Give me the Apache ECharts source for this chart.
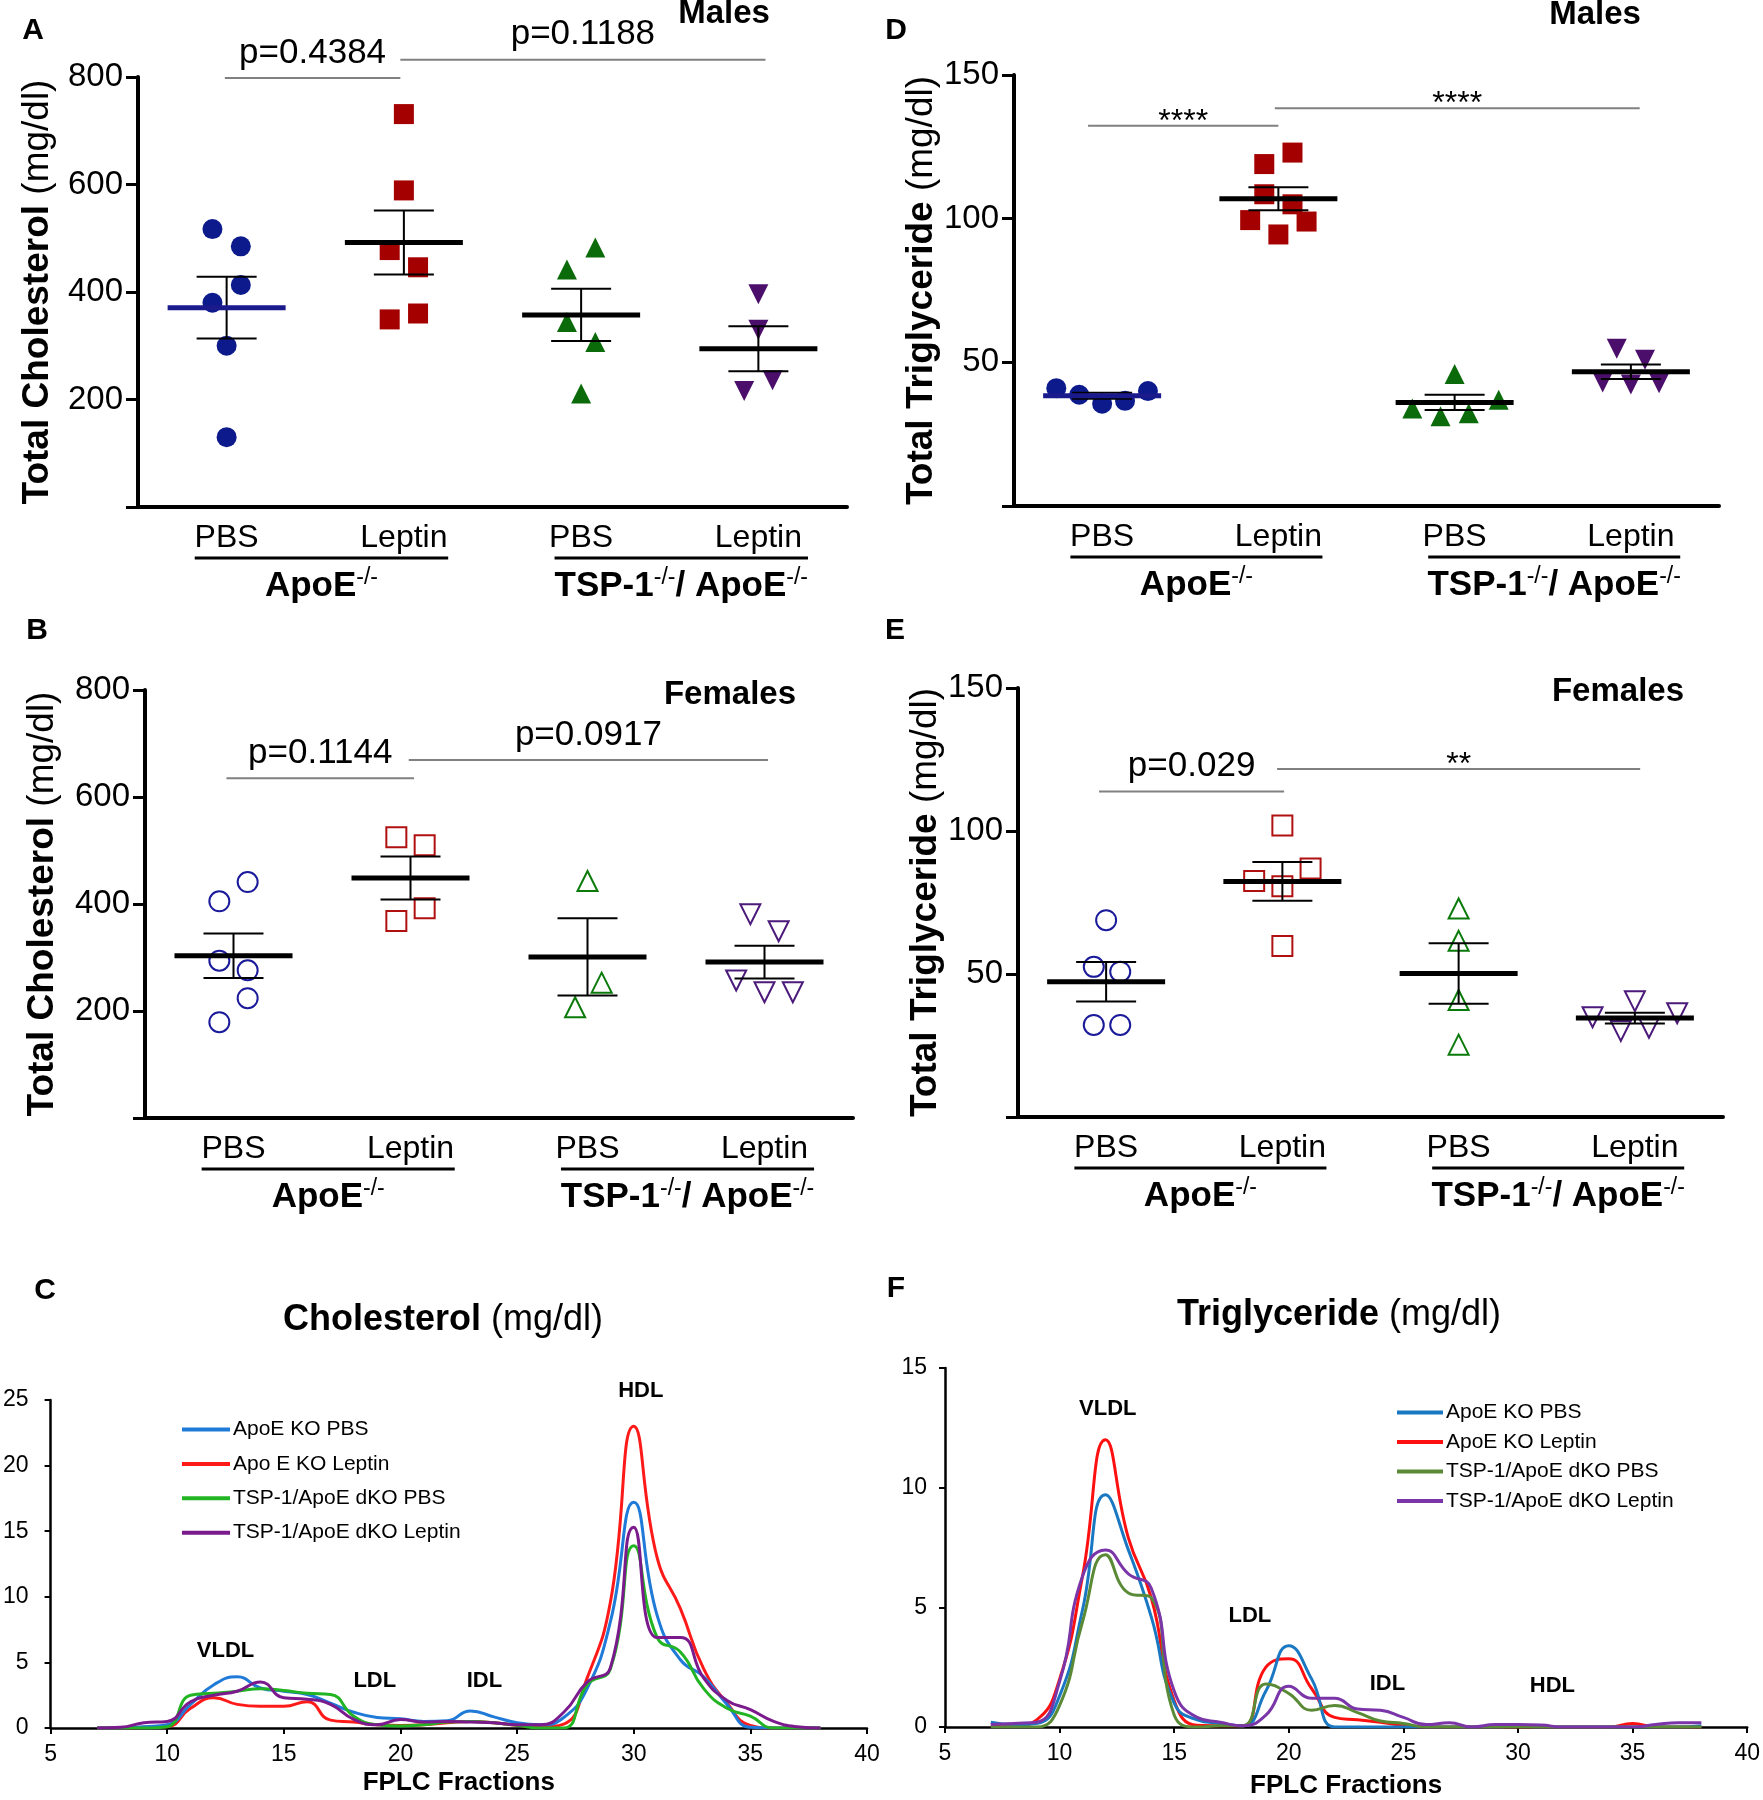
<!DOCTYPE html>
<html><head><meta charset="utf-8">
<script src="https://cdn.jsdelivr.net/npm/echarts@6/dist/echarts.min.js"></script>
<style>html,body{margin:0;padding:0;background:#fff}#c{width:1763px;height:1800px}</style>
</head><body><div id="c"></div>
<script>
// ---------- DATA ----------
const treatments = ['PBS', 'Leptin', 'PBS', 'Leptin'];
const genotypeLabels = ['{b|ApoE}{s|-/-}', '{b|TSP-1}{s|-/-}{b|/ ApoE}{s|-/-}'];

// Panel A: Males, total cholesterol (mg/dl)
const A_apoePBS = [517, 485, 413, 380, 300, 130];
const A_apoeLep = [731, 589, 478, 446, 349, 360];
const A_tspPBS  = [483, 442, 344, 307, 211];
const A_tspLep  = [396, 330, 216, 236];
// Panel B: Females, total cholesterol (mg/dl)
const B_apoePBS = [441, 405, 294, 276, 224, 179];
const B_apoeLep = [525, 510, 392, 368];
const B_tspPBS  = [443, 253, 207];
const B_tspLep  = [381, 349, 257, 235, 235];
// Panel D: Males, total triglyceride (mg/dl)
const D_apoePBS = [41, 38.7, 35.6, 36.6, 40];
const D_apoeLep = [123, 119, 108.5, 105, 99.5, 99, 94.5];
const D_tspPBS  = [45.9, 33.9, 31.2, 32.3, 37];
const D_tspLep  = [54.7, 50.9, 43, 42.3, 42.7];
// Panel E: Females, total triglyceride (mg/dl)
const E_apoePBS = [68.8, 52.5, 50.8, 32.2, 32.2];
const E_apoeLep = [101.9, 86.9, 82.5, 80.7, 59.8];
const E_tspPBS  = [72.9, 61.6, 40.9, 25.3];
const E_tspLep  = [34.9, 40.5, 36.3, 30.1, 31.2];

// significance annotations: [from group, to group, level]
const A_sig = [[0.99, 1.98, 798], [1.98, 4.04, 832]];
const A_sigText = ['p=0.4384', 'p=0.1188'];
const B_sig = [[0.96, 2.02, 635], [1.99, 4.02, 669]];
const B_sigText = ['p=0.1144', 'p=0.0917'];
const D_sig = [[0.92, 2.0, 132.3], [1.98, 4.05, 138.4]];
const D_sigText = ['****', '****'];
const E_sig = [[0.96, 2.01, 113.8], [1.97, 4.03, 121.7]];
const E_sigText = ['p=0.029', '**'];

// FPLC profiles
const fractions = [7,8,9,10,11,12,13,14,15,16,17,18,19,20,21,22,23,24,25,26,27,28,29,30,31,32,33,34,35,36,37,38];
const C_names = ['ApoE KO PBS', 'Apo E KO Leptin', 'TSP-1/ApoE dKO PBS', 'TSP-1/ApoE dKO Leptin'];
const C_apoePBS = [0,0,0.1,0.25,1.8,3.3,3.9,3.05,2.8,2.55,1.9,1.2,0.8,0.7,0.5,0.55,1.3,0.85,0.4,0.25,0.8,3.0,8.1,17.2,8.6,5.2,3.9,1.8,0.05,0,0,0];
const C_apoeLep = [0,0,0.05,0.1,1.5,2.3,1.8,1.65,1.65,2.0,0.6,0.45,0.25,0.2,0.25,0.4,0.5,0.4,0.2,0.1,0.3,3.8,9.6,23.0,13.0,9.1,4.5,1.9,0.2,0,0,0];
const C_tspPBS  = [0,0,0,0.1,2.5,2.65,2.8,3.0,2.85,2.65,2.55,0.9,0.25,0.15,0.25,0.45,0.5,0.4,0.2,0,0,3.3,4.5,13.9,6.9,5.8,3.0,1.5,0.9,0,0,0];
const C_tspLep  = [0,0.05,0.4,0.5,2.0,2.5,2.8,3.5,2.3,2.2,1.8,0.65,0.25,0.65,0.45,0.5,0.45,0.4,0.25,0.25,1.2,3.5,4.6,15.3,6.9,6.9,3.8,2.1,1.4,0.5,0.1,0];
const F_names = ['ApoE KO PBS', 'ApoE KO Leptin', 'TSP-1/ApoE dKO PBS', 'TSP-1/ApoE dKO Leptin'];
const F_apoePBS = [0.2,0.1,0.15,1.3,4.9,9.7,7.4,4.6,1.0,0.3,0.15,0.05,1.5,3.4,2.0,0,0,0,0,0,0,0,0,0.05,0,0,0,0,0,0,0,0.05];
const F_apoeLep = [0.05,0.05,0.3,2.0,6.3,12.0,7.9,5.4,1.1,0.07,0.05,0.05,2.5,2.85,1.6,0.4,0.3,0.2,0.07,0,0,0,0,0,0,0,0,0,0.15,0,0,0];
const F_tspPBS  = [0,0,0,0.9,4.4,7.2,5.6,5.4,0.5,0,0.05,0.05,1.8,1.4,0.7,0.9,0.6,0.25,0.15,0,0,0,0,0,0,0,0,0,0,0,0,0];
const F_tspLep  = [0.1,0.15,0.2,1.9,6.3,7.4,6.4,5.8,1.5,0.4,0.2,0.05,0.5,1.7,1.2,1.2,0.75,0.7,0.4,0.1,0.18,0,0.1,0.1,0.08,0,0,0,0,0.1,0.18,0.18];
// lipoprotein class labels [fraction, level]
const C_classes = [['VLDL', 12.5, 5.85], ['LDL', 18.9, 3.56], ['IDL', 23.6, 3.56], ['HDL', 30.3, 25.7]];
const F_classes = [['VLDL', 12.1, 13.3], ['LDL', 18.3, 4.64], ['IDL', 24.3, 1.78], ['HDL', 31.5, 1.71]];

// ---------- LAYOUT / STYLE ----------
const FONT = '"Liberation Sans", Arial, Helvetica, sans-serif';
// horizontal scatter spread within a group (category units)
const A_jit = [[-0.08,0.08,0.08,-0.08,0,0],[0,0,-0.08,0.08,-0.08,0.08],[0.08,-0.08,-0.08,0.08,0],[0,0,-0.08,0.08]];
const B_jit = [[0.08,-0.08,-0.08,0.08,0.08,-0.08],[-0.08,0.08,0.08,-0.08],[0,0.08,-0.07],[-0.08,0.08,-0.16,0,0.16]];
const D_jit = [[-0.26,-0.13,0,0.13,0.26],[0.08,-0.08,-0.08,0.08,-0.16,0.16,0],[0,-0.24,-0.08,0.08,0.25],[-0.08,0.08,-0.16,0,0.16]];
const E_jit = [[0,-0.07,0.08,-0.07,0.08],[0,0.16,-0.16,0,0],[0,0,0,0],[-0.24,0,0.24,-0.08,0.08]];
const groupSpans = [[0.82, 2.25], [2.85, 4.28]];

const markerColors = ['#0d1a8c', '#a50000', '#0b6b0b', '#4b0f6b'];
const openColors = ['#1a1a9a', '#b01010', '#0a7a0a', '#4b1a7a'];
const symbolsFilled = ['circle', 'rect', 'triangle', 'triangle'];
const symbolsOpen = ['emptyCircle', 'emptyRect', 'emptyTriangle', 'emptyTriangle'];

function mean(a) { return a.reduce((s, v) => s + v, 0) / a.length; }
function sem(a) { const m = mean(a); const v = a.reduce((s, x) => s + (x - m) * (x - m), 0) / (a.length - 1); return Math.sqrt(v / a.length); }

const panels = [
  { grid: {left: 138, top: 77, width: 709, height: 430}, groups: [A_apoePBS, A_apoeLep, A_tspPBS, A_tspLep], jit: A_jit,
    ymax: 800, yint: 200, yname: '{b|Total Cholesterol} {n|(mg/dl)}', nameGap: 82, filled: true, firstMeanColor: '#1a1a8c', sig: A_sig, sigText: A_sigText },
  { grid: {left: 1014, top: 75, width: 705, height: 431}, groups: [D_apoePBS, D_apoeLep, D_tspPBS, D_tspLep], jit: D_jit,
    ymax: 150, yint: 50, yname: '{b|Total Triglyceride} {n|(mg/dl)}', nameGap: 70, filled: true, firstMeanColor: '#1a1a8c', sig: D_sig, sigText: D_sigText },
  { grid: {left: 145, top: 690, width: 708, height: 428}, groups: [B_apoePBS, B_apoeLep, B_tspPBS, B_tspLep], jit: B_jit,
    ymax: 800, yint: 200, yname: '{b|Total Cholesterol} {n|(mg/dl)}', nameGap: 84, filled: false, firstMeanColor: '#000', sig: B_sig, sigText: B_sigText },
  { grid: {left: 1018, top: 688, width: 705, height: 429}, groups: [E_apoePBS, E_apoeLep, E_tspPBS, E_tspLep], jit: E_jit,
    ymax: 150, yint: 50, yname: '{b|Total Triglyceride} {n|(mg/dl)}', nameGap: 72, filled: false, firstMeanColor: '#000', sig: E_sig, sigText: E_sigText }
];

const grids = [], xAxes = [], yAxes = [], series = [];

panels.forEach((p, i) => {
  grids.push(p.grid);
  xAxes.push({
    type: 'category', gridIndex: i, data: treatments, boundaryGap: true,
    axisLine: {lineStyle: {color: '#000', width: 4}},
    axisTick: {alignWithLabel: true, length: 11, lineStyle: {color: '#000', width: 4}},
    axisLabel: {fontSize: 32, color: '#000', fontFamily: FONT, margin: 15},
    splitLine: {show: false}
  });
  xAxes.push({type: 'value', gridIndex: i, min: 0.5, max: 4.5, show: false});
  yAxes.push({
    type: 'value', gridIndex: i, min: 0, max: p.ymax, interval: p.yint,
    axisLine: {show: true, lineStyle: {color: '#000', width: 4}},
    axisTick: {show: true, length: 12, lineStyle: {color: '#000', width: 3}},
    axisLabel: {fontSize: 33, color: '#000', fontFamily: FONT, margin: 15, formatter: v => v === 0 ? '' : String(v)},
    splitLine: {show: false},
    name: p.yname, nameLocation: 'middle', nameGap: p.nameGap,
    nameTextStyle: {fontSize: 37, color: '#000', fontFamily: FONT,
      rich: {b: {fontSize: 37, fontWeight: 'bold', color: '#000', fontFamily: FONT}, n: {fontSize: 37, color: '#000', fontFamily: FONT}}}
  });
  // points
  p.groups.forEach((vals, g) => {
    const base = {
      type: 'scatter', xAxisIndex: 2 * i + 1, yAxisIndex: i, z: 3,
      data: vals.map((v, k) => [g + 1 + p.jit[g][k], v]),
      symbolRotate: g === 3 ? 180 : 0,
      emphasis: {disabled: true}, silent: true
    };
    if (p.filled) {
      base.symbol = symbolsFilled[g]; base.symbolSize = 20;
      base.itemStyle = {color: markerColors[g], opacity: 1};
    } else {
      base.symbol = symbolsOpen[g]; base.symbolSize = 20;
      base.itemStyle = {color: openColors[g], borderWidth: 2.5, opacity: 1};
    }
    series.push(base);
  });
  // mean +/- SEM
  series.push({
    type: 'custom', xAxisIndex: 2 * i + 1, yAxisIndex: i, z: 5, silent: true,
    encode: {x: 0, y: 1},
    data: p.groups.map((vals, g) => [g + 1, mean(vals), sem(vals)]),
    renderItem: function (params, api) {
      const x = api.value(0), m = api.value(1), s = api.value(2);
      const c = api.coord([x, m]), t = api.coord([x, m + s]), b = api.coord([x, m - s]);
      const col = params.dataIndex === 0 ? p.firstMeanColor : '#000';
      return {type: 'group', children: [
        {type: 'line', shape: {x1: t[0], y1: t[1], x2: b[0], y2: b[1]}, style: {stroke: '#000', lineWidth: 2}},
        {type: 'line', shape: {x1: t[0] - 30, y1: t[1], x2: t[0] + 30, y2: t[1]}, style: {stroke: '#000', lineWidth: 2}},
        {type: 'line', shape: {x1: b[0] - 30, y1: b[1], x2: b[0] + 30, y2: b[1]}, style: {stroke: '#000', lineWidth: 2}},
        {type: 'line', shape: {x1: c[0] - 59, y1: c[1], x2: c[0] + 59, y2: c[1]}, style: {stroke: col, lineWidth: 5}}
      ]};
    }
  });
  // significance bars
  series.push({
    type: 'custom', xAxisIndex: 2 * i + 1, yAxisIndex: i, z: 4, silent: true, clip: false,
    encode: {x: [0, 1], y: 2},
    data: p.sig,
    renderItem: function (params, api) {
      const y = api.value(2);
      const p1 = api.coord([api.value(0), y]), p2 = api.coord([api.value(1), y]);
      const txt = p.sigText[params.dataIndex];
      const star = txt.charAt(0) === '*';
      return {type: 'group', children: [
        {type: 'line', shape: {x1: p1[0], y1: p1[1], x2: p2[0], y2: p2[1]}, style: {stroke: '#808080', lineWidth: 2}},
        {type: 'text', style: {text: txt, x: (p1[0] + p2[0]) / 2, y: p1[1] - (star ? 4 : 25), align: 'center', verticalAlign: 'middle',
          fontSize: star ? 32 : 35, fontFamily: FONT, fill: '#000'}}
      ]};
    }
  });
  // genotype group underline + label
  series.push({
    type: 'custom', xAxisIndex: 2 * i + 1, yAxisIndex: i, z: 4, silent: true, clip: false,
    encode: {x: [0, 1], y: 2},
    data: groupSpans.map(s => [s[0], s[1], 0]),
    renderItem: function (params, api) {
      const p1 = api.coord([api.value(0), 0]), p2 = api.coord([api.value(1), 0]);
      return {type: 'group', children: [
        {type: 'line', shape: {x1: p1[0], y1: p1[1] + 51, x2: p2[0], y2: p2[1] + 51}, style: {stroke: '#000', lineWidth: 3}},
        {type: 'text', style: {text: genotypeLabels[params.dataIndex], x: (p1[0] + p2[0]) / 2, y: p1[1] + 78,
          align: 'center', verticalAlign: 'middle', fontFamily: FONT, fill: '#000',
          rich: {b: {fontSize: 35, fontWeight: 'bold', fontFamily: FONT, fill: '#000', verticalAlign: 'bottom', lineHeight: 38},
                 s: {fontSize: 23, fontFamily: FONT, fill: '#000', verticalAlign: 'top', lineHeight: 38}}}}
      ]};
    }
  });
});

// FPLC grids
const fplc = [
  { grid: {left: 49, top: 1400, width: 818, height: 328}, ymax: 25, names: C_names, key: '',
    data: [C_apoePBS, C_apoeLep, C_tspPBS, C_tspLep], colors: ['#1f7ad8', '#ff1a1a', '#22b422', '#7a1a8c'],
    classes: C_classes, legend: {left: 182, top: 1419, itemWidth: 48, itemGap: 13.4} },
  { grid: {left: 945, top: 1368, width: 804, height: 360}, ymax: 15, names: F_names, key: 'F:',
    data: [F_apoePBS, F_apoeLep, F_tspPBS, F_tspLep], colors: ['#1a78c2', '#ff1010', '#5a8a35', '#7a35a8'],
    classes: F_classes, legend: {left: 1397, top: 1402, itemWidth: 46, itemGap: 8.5} }
];
const legends = [];
fplc.forEach((f, j) => {
  const gi = 4 + j;
  grids.push(f.grid);
  xAxes.push({
    type: 'value', gridIndex: gi, min: 5, max: 40, interval: 5,
    axisLine: {onZero: false, lineStyle: {color: '#000', width: 2.5}},
    axisTick: {show: true, length: 6, lineStyle: {color: '#000', width: 2}},
    axisLabel: {fontSize: 23, color: '#000', fontFamily: FONT, margin: 15},
    splitLine: {show: false},
    name: 'FPLC Fractions', nameLocation: 'middle', nameGap: j === 0 ? 42 : 46,
    nameTextStyle: {fontSize: 26, fontWeight: 'bold', color: '#000', fontFamily: FONT}
  });
  yAxes.push({
    type: 'value', gridIndex: gi, min: 0, max: f.ymax, interval: 5,
    axisLine: {show: true, lineStyle: {color: '#000', width: 2.5}},
    axisTick: {show: true, length: 6, lineStyle: {color: '#000', width: 2}},
    axisLabel: {fontSize: 23, color: '#000', fontFamily: FONT, margin: j === 0 ? 22 : 18},
    splitLine: {show: false}
  });
  f.data.forEach((arr, k) => {
    series.push({
      type: 'line', name: f.key + f.names[k], xAxisIndex: 8 + j, yAxisIndex: gi,
      data: fractions.map((fr, idx) => [fr, arr[idx]]),
      smooth: 0.5, showSymbol: false, symbol: 'none', silent: true,
      color: f.colors[k], itemStyle: {color: f.colors[k]},
      lineStyle: {color: f.colors[k], width: 3}, z: 3 + (k === 1 ? 0 : 1)
    });
  });
  series.push({
    type: 'custom', xAxisIndex: 8 + j, yAxisIndex: gi, clip: false, silent: true, z: 6,
    encode: {x: 0, y: 1},
    data: f.classes.map(c => [c[1], c[2]]),
    renderItem: function (params, api) {
      const pt = api.coord([api.value(0), api.value(1)]);
      return {type: 'text', style: {text: f.classes[params.dataIndex][0], x: pt[0], y: pt[1], align: 'center', verticalAlign: 'middle',
        fontSize: 22, fontWeight: 'bold', fontFamily: FONT, fill: '#000'}};
    }
  });
  legends.push({
    orient: 'vertical', left: f.legend.left, top: f.legend.top, itemWidth: f.legend.itemWidth, itemHeight: 4,
    itemGap: f.legend.itemGap, icon: 'rect', padding: 0, selectedMode: false,
    data: f.names.map(n => f.key + n),
    formatter: name => name.replace(/^F:/, ''),
    textStyle: {fontSize: 21, color: '#000', fontFamily: FONT, padding: [0, 0, 0, -2]}
  });
});

function txt(text, x, y, size, bold, rich) {
  return {type: 'text', x: x, y: y, style: {text: text, align: 'center', verticalAlign: 'middle', fontSize: size,
    fontWeight: bold ? 'bold' : 'normal', fontFamily: FONT, fill: '#000', rich: rich}, silent: true};
}
const titleRich = {b: {fontSize: 36, fontWeight: 'bold', fontFamily: FONT, fill: '#000'}, n: {fontSize: 36, fontFamily: FONT, fill: '#000'}};
const graphics = [
  txt('A', 33, 31, 30, true), txt('D', 896, 31, 30, true), txt('B', 37, 631, 30, true),
  txt('E', 895, 631, 30, true), txt('C', 45, 1291, 30, true), txt('F', 896, 1289, 30, true),
  txt('Males', 724, 14, 33, true), txt('Males', 1595, 15, 33, true),
  txt('Females', 730, 695, 33, true), txt('Females', 1618, 692, 33, true),
  txt('{b|Cholesterol} {n|(mg/dl)}', 443, 1320, 36, false, titleRich),
  txt('{b|Triglyceride} {n|(mg/dl)}', 1339, 1315, 36, false, titleRich)
];

const chart = echarts.init(document.getElementById('c'), null, {renderer: 'canvas', width: 1763, height: 1800});
chart.setOption({
  backgroundColor: '#fff', animation: false,
  grid: grids, xAxis: xAxes, yAxis: yAxes, legend: legends, series: series, graphic: graphics
});
</script></body></html>
